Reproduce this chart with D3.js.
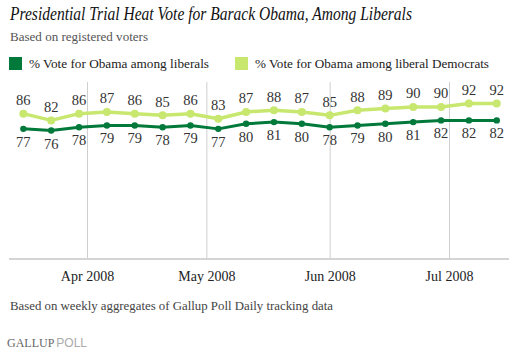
<!DOCTYPE html>
<html>
<head>
<meta charset="utf-8">
<script src="https://cdn.jsdelivr.net/npm/d3@7"></script>
</head>
<body style="margin:0;background:#fff">
<div id="chart"></div>
<script>
// weekly aggregates, week starting dates
const weeks = ["2008-03-16", "2008-03-23", "2008-03-30", "2008-04-06", "2008-04-13", "2008-04-20",
	"2008-04-27", "2008-05-04", "2008-05-11", "2008-05-18", "2008-05-25", "2008-06-01",
	"2008-06-08", "2008-06-15", "2008-06-22", "2008-06-29", "2008-07-06", "2008-07-13"];
const liberals = [77, 76, 78, 79, 79, 78, 79, 77, 80, 81, 80, 78, 79, 80, 81, 82, 82, 82];
const liberalDems = [86, 82, 86, 87, 86, 85, 86, 83, 87, 88, 87, 85, 88, 89, 90, 90, 92, 92];
const monthTicks = ["2008-04-01", "2008-05-01", "2008-06-01", "2008-07-01"];
const legendLabels = ["% Vote for Obama among liberals", "% Vote for Obama among liberal Democrats"];

const width = 516, height = 354;
const darkGreen = "#00793a", lightGreen = "#c7e76f";
const serif = '"Liberation Serif", serif';

const parse = d3.timeParse("%Y-%m-%d");
const dates = weeks.map(parse);

const svg = d3.select("#chart")
	.append("svg")
	.style("display", "block")
	.style("font-family", serif)
	.attr("width", width)
	.attr("height", height);

// Title and subtitle
svg.append("text")
	.attr("x", 10).attr("y", 20)
	.style("font-family", serif)
	.style("font-size", "18px")
	.style("font-style", "italic")
	.attr("fill", "#111")
	.attr("textLength", 402)
	.attr("lengthAdjust", "spacingAndGlyphs")
	.text("Presidential Trial Heat Vote for Barack Obama, Among Liberals");

svg.append("text")
	.attr("x", 10).attr("y", 41)
	.style("font-family", serif)
	.style("font-size", "13.5px")
	.attr("fill", "#555")
	.attr("textLength", 138)
	.attr("lengthAdjust", "spacingAndGlyphs")
	.text("Based on registered voters");

// Legend
const legend = svg.append("g");
[[darkGreen, 9, 180], [lightGreen, 235, 234]].forEach(([c, lx, tl], i) => {
	legend.append("rect")
		.attr("x", lx).attr("y", 57)
		.attr("width", 13).attr("height", 13)
		.attr("fill", c);
	legend.append("text")
		.attr("x", lx + 20).attr("y", 68)
		.style("font-family", serif)
		.style("font-size", "13.5px")
		.attr("fill", "#222")
		.attr("textLength", tl)
		.attr("lengthAdjust", "spacingAndGlyphs")
		.text(legendLabels[i]);
});

// Scales
const x = d3.scaleTime()
	.domain([parse("2008-04-01"), parse("2008-07-01")])
	.range([87, 449]);
const y = d3.scaleLinear()
	.domain([0, 100])
	.range([259, 90]);

const plotTop = 82, plotBottom = 259;

// Gridlines + month labels
const axis = svg.append("g")
	.attr("transform", `translate(0,${plotBottom})`)
	.call(d3.axisBottom(x)
		.tickValues(monthTicks.map(parse))
		.tickFormat(d3.timeFormat("%b %Y"))
		.tickSize(-(plotBottom - plotTop))
		.tickPadding(0));
axis.attr("font-family", null);
axis.select(".domain").remove();
axis.selectAll(".tick line").attr("stroke", "#cfcfcf").attr("stroke-width", 1);
axis.selectAll(".tick text")
	.attr("y", 22)
	.attr("dy", 0)
	.style("font-size", "14px")
	.style("font-family", serif)
	.attr("fill", "#222");

// Baseline
svg.append("line")
	.attr("x1", 9).attr("x2", 509)
	.attr("y1", plotBottom).attr("y2", plotBottom)
	.attr("stroke", "#d4d4d4")
	.attr("stroke-width", 2);

// Lines
const series = [
	{ values: liberalDems, color: lightGreen, w: 3.5, r: 4, dy: -8.5 },
	{ values: liberals, color: darkGreen, w: 3, r: 3.2, dy: 18 }
];

series.forEach((s) => {
	const pts = dates.map((d, i) => [d, s.values[i]]);
	const line = d3.line()
		.x((d) => x(d[0]))
		.y((d) => y(d[1]));

	svg.append("path")
		.datum(pts)
		.attr("fill", "none")
		.attr("stroke", s.color)
		.attr("stroke-width", s.w)
		.attr("stroke-linejoin", "round")
		.attr("d", line);

	svg.append("g")
		.selectAll("circle")
		.data(pts)
		.join("circle")
		.attr("cx", (d) => x(d[0]))
		.attr("cy", (d) => y(d[1]))
		.attr("r", s.r)
		.attr("fill", s.color);

	svg.append("g")
		.selectAll("text")
		.data(pts)
		.join("text")
		.attr("x", (d) => x(d[0]))
		.attr("y", (d) => y(d[1]) + s.dy)
		.attr("text-anchor", "middle")
		.style("font-family", serif)
		.style("font-size", "14.5px")
		.attr("fill", "#333")
		.text((d) => d[1]);
});

// Footer
svg.append("text")
	.attr("x", 10).attr("y", 310)
	.style("font-family", serif)
	.style("font-size", "13.5px")
	.attr("fill", "#444")
	.attr("textLength", 323)
	.attr("lengthAdjust", "spacingAndGlyphs")
	.text("Based on weekly aggregates of Gallup Poll Daily tracking data");

const brand = svg.append("text")
	.attr("x", 7).attr("y", 347)
	.style("font-size", "12px");
brand.append("tspan")
	.attr("fill", "#666")
	.style("font-family", serif)
	.text("GALLUP");
brand.append("tspan")
	.attr("fill", "#aaa")
	.attr("dx", 2)
	.style("font-family", '"Liberation Sans", sans-serif')
	.text("POLL");
</script>
</body>
</html>
